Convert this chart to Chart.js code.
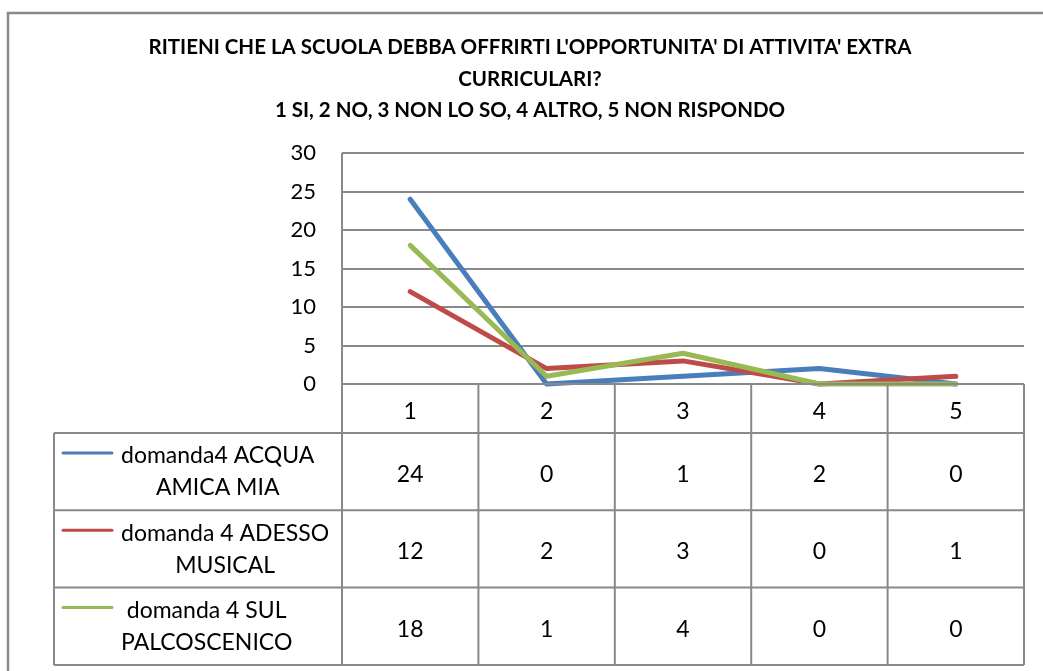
<!DOCTYPE html>
<html>
<head>
<meta charset="utf-8">
<script src="https://cdn.jsdelivr.net/npm/chart.js@4/dist/chart.umd.min.js"></script>
<style>
html,body{margin:0;padding:0;background:#fff;}
#wrap{position:relative;width:1043px;height:671px;}
</style>
</head>
<body>
<div id="wrap"><canvas id="c" width="1043" height="671"></canvas></div>
<script>
const titleLines = [
  "RITIENI CHE LA SCUOLA DEBBA OFFRIRTI L'OPPORTUNITA' DI ATTIVITA' EXTRA",
  "CURRICULARI?",
  "1 SI, 2 NO, 3 NON LO SO, 4 ALTRO, 5 NON RISPONDO"
];
const categories = ['1', '2', '3', '4', '5'];
const seriesNames = [
  ['domanda4 ACQUA', 'AMICA MIA'],
  ['domanda 4 ADESSO', 'MUSICAL'],
  ['domanda 4 SUL', 'PALCOSCENICO']
];
const acquaAmicaMia = [24, 0, 1, 2, 0];
const adessoMusical = [12, 2, 3, 0, 1];
const sulPalcoscenico = [18, 1, 4, 0, 0];
const seriesColors = ['#4A7EBB', '#BE4B48', '#98B954'];
const yTicks = [0, 5, 10, 15, 20, 25, 30];

const FONT = 'Lato, "Open Sans", sans-serif';
const GRID = '#898989';

const tablePlugin = {
  id: 'tablePlugin',
  afterDraw(chart) {
    const ctx = chart.ctx;
    const area = chart.chartArea;
    const xs = chart.scales.x;
    const half = (xs.getPixelForValue(1) - xs.getPixelForValue(0)) / 2;
    const left = area.left, right = area.right, base = area.bottom;
    const headerH = 49, rowH = 77.3;
    const legendLeft = 54;
    const rowsTop = base + headerH;
    const rowsBottom = rowsTop + rowH * seriesNames.length;
    ctx.save();
    // outer frame
    ctx.strokeStyle = GRID;
    ctx.lineWidth = 2.5;
    ctx.beginPath();
    ctx.moveTo(8, 700); ctx.lineTo(8, 13); ctx.lineTo(1060, 13);
    ctx.stroke();
    // title
    ctx.fillStyle = '#000';
    ctx.textAlign = 'center';
    ctx.textBaseline = 'middle';
    ctx.font = 'bold 20.5px ' + FONT;
    const tys = [47, 79, 110];
    titleLines.forEach((t, i) => ctx.fillText(t, 530, tys[i]));
    // table grid
    ctx.strokeStyle = GRID;
    ctx.lineWidth = 2;
    ctx.beginPath();
    ctx.moveTo(left, base); ctx.lineTo(right, base);
    for (let r = 0; r <= seriesNames.length; r++) {
      const y = rowsTop + r * rowH;
      ctx.moveTo(legendLeft, y); ctx.lineTo(right, y);
    }
    ctx.moveTo(left, area.top); ctx.lineTo(left, rowsBottom);
    ctx.moveTo(legendLeft, rowsTop); ctx.lineTo(legendLeft, rowsBottom);
    categories.forEach((c, i) => {
      const x = xs.getPixelForValue(i) + half;
      ctx.moveTo(x, base); ctx.lineTo(x, rowsBottom);
    });
    ctx.stroke();
    // header labels
    ctx.fillStyle = '#000';
    ctx.font = '23px ' + FONT;
    ctx.textAlign = 'center';
    categories.forEach((c, i) => ctx.fillText(c, xs.getPixelForValue(i), base + 28));
    // rows
    chart.data.datasets.forEach((ds, r) => {
      const y0 = rowsTop + r * rowH;
      const cy = y0 + rowH / 2 + 3;
      ds.data.forEach((v, i) => ctx.fillText(String(v), xs.getPixelForValue(i), cy));
      // legend key
      ctx.strokeStyle = ds.borderColor;
      ctx.lineWidth = 3;
      ctx.lineCap = 'round';
      ctx.beginPath();
      ctx.moveTo(63, y0 + 20); ctx.lineTo(112, y0 + 20);
      ctx.stroke();
      // legend text
      const lines = seriesNames[r];
      const maxW = Math.max(...lines.map(l => ctx.measureText(l).width));
      const cx = 121 + maxW / 2;
      ctx.fillStyle = '#000';
      lines.forEach((l, k) => ctx.fillText(l, cx, y0 + 23 + k * 32));
    });
    ctx.restore();
  }
};

new Chart(document.getElementById('c'), {
  type: 'line',
  data: {
    labels: categories,
    datasets: [
      { label: seriesNames[0].join(' '), data: acquaAmicaMia, borderColor: seriesColors[0], order: 3 },
      { label: seriesNames[1].join(' '), data: adessoMusical, borderColor: seriesColors[1], order: 2 },
      { label: seriesNames[2].join(' '), data: sulPalcoscenico, borderColor: seriesColors[2], order: 1 }
    ].map(d => Object.assign(d, {
      backgroundColor: d.borderColor, borderWidth: 5, pointRadius: 0, pointHoverRadius: 0,
      tension: 0, borderCapStyle: 'round', borderJoinStyle: 'round', fill: false, clip: false
    }))
  },
  options: {
    responsive: false,
    animation: false,
    events: [],
    layout: { padding: { left: 0, right: 19, top: 153, bottom: 287 } },
    plugins: { legend: { display: false }, title: { display: false }, tooltip: { enabled: false } },
    scales: {
      x: { type: 'category', offset: true, display: false },
      y: {
        min: 0, max: 30,
        afterFit(s) { s.width = 342; },
        afterBuildTicks(s) { s.ticks = yTicks.map(v => ({ value: v })); },
        border: { display: false },
        grid: { color: GRID, lineWidth: 2, drawTicks: false },
        ticks: { color: '#000', font: { family: FONT, size: 22 }, padding: 26 }
      }
    }
  },
  plugins: [tablePlugin]
});
</script>
</body>
</html>
